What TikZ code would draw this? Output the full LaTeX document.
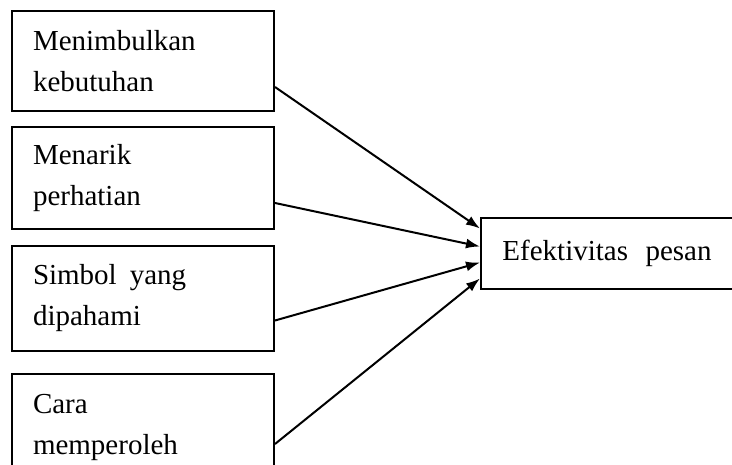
\documentclass[tikz,border=0pt]{standalone}
\usepackage{fontspec}
\setmainfont{Liberation Serif}
\usetikzlibrary{arrows.meta}
\begin{document}
\begin{tikzpicture}[x=1pt,y=-1pt]
\tikzstyle{factor}=[draw,line width=2pt,rectangle,anchor=north west,text width=220pt,inner xsep=21pt,inner ysep=0pt,minimum height=100pt,align=left,font=\fontsize{29}{41}\selectfont]
\tikzstyle{effect}=[draw,line width=2pt,rectangle,anchor=north west,minimum width=252pt,minimum height=71pt,font=\fontsize{29}{41}\selectfont]
\tikzstyle{link}=[line width=2pt,-{Latex[length=14pt,width=10pt]}]

\useasboundingbox (0,0) rectangle (732,465);
\clip (0,0) rectangle (732,465);

% factors on the left
\node[factor] (need) at (11,10) {Menimbulkan\\kebutuhan};
\node[factor,minimum height=102pt] (attn) at (11,126) {Menarik\\perhatian};
\node[factor,minimum height=105pt] (sym) at (11,245) {Simbol\hspace{0.45em}yang\\dipahami};
\node[factor,minimum height=106pt] (way) at (11,373) {Cara\\memperoleh};

% result
\node[effect] (eff) at (480,217) {Efektivitas\hspace{0.6em}pesan};

\draw[link] ([yshift=-26pt]need.east) -- ([yshift=25pt]eff.west);
\draw[link] ([yshift=-25pt]attn.east) -- ([yshift=7pt]eff.west);
\draw[link] ([yshift=-22pt]sym.east) -- ([yshift=-9pt]eff.west);
\draw[link] ([yshift=-17pt]way.east) -- ([yshift=-25pt]eff.west);
\end{tikzpicture}
\end{document}
